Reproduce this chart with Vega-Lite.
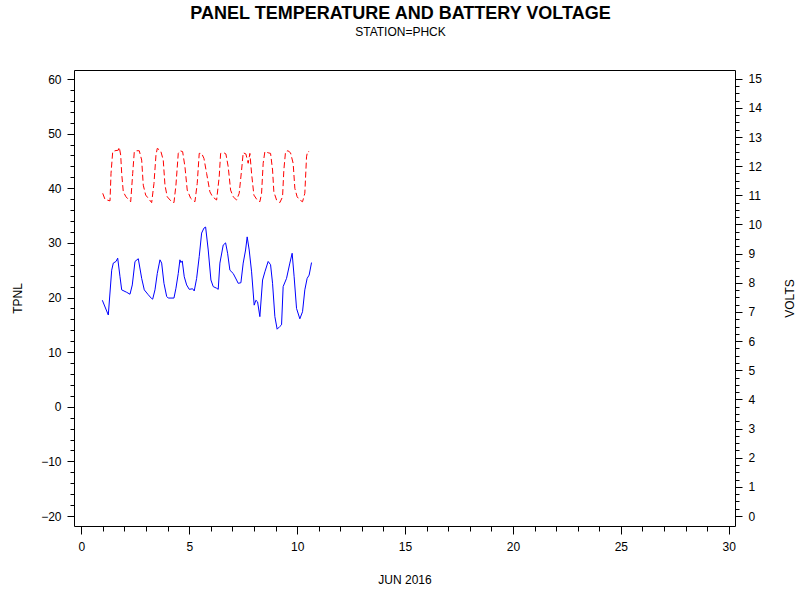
{
  "$schema": "https://vega.github.io/schema/vega-lite/v6.json",
  "autosize": {"type": "none"},
  "width": 661,
  "height": 456,
  "padding": {"left": 74, "top": 70, "right": 65, "bottom": 74},
  "background": "white",
  "title": {
    "text": "PANEL TEMPERATURE AND BATTERY VOLTAGE",
    "subtitle": "STATION=PHCK",
    "font": "Liberation Sans",
    "fontSize": 18,
    "fontWeight": "bold",
    "color": "black",
    "subtitleFont": "Liberation Sans",
    "subtitleFontSize": 12,
    "subtitleColor": "black",
    "subtitlePadding": 4,
    "anchor": "middle",
    "dx": -4,
    "offset": 32
  },
  "config": {
    "view": {"stroke": "black", "strokeWidth": 1},
    "axis": {
      "domain": false,
      "grid": false,
      "labelFont": "Liberation Sans",
      "labelFontSize": 12,
      "labelColor": "black",
      "tickColor": "black",
      "titleFont": "Liberation Sans",
      "titleFontSize": 12,
      "titleFontWeight": "normal",
      "titleColor": "black"
    }
  },
  "datasets": {
    "tpnl": [
      {"day": 0.972, "value": 19.5},
      {"day": 1.25, "value": 16.8},
      {"day": 1.407, "value": 25.0},
      {"day": 1.481, "value": 26.3},
      {"day": 1.606, "value": 26.6},
      {"day": 1.685, "value": 27.2},
      {"day": 1.792, "value": 23.8},
      {"day": 1.870, "value": 21.4},
      {"day": 2.102, "value": 20.95},
      {"day": 2.255, "value": 20.6},
      {"day": 2.361, "value": 22.3},
      {"day": 2.486, "value": 26.6},
      {"day": 2.639, "value": 27.1},
      {"day": 2.796, "value": 23.5},
      {"day": 2.917, "value": 21.4},
      {"day": 3.102, "value": 20.5},
      {"day": 3.259, "value": 19.8},
      {"day": 3.306, "value": 19.7},
      {"day": 3.412, "value": 21.4},
      {"day": 3.519, "value": 24.4},
      {"day": 3.644, "value": 26.9},
      {"day": 3.722, "value": 26.3},
      {"day": 3.829, "value": 22.6},
      {"day": 3.954, "value": 20.2},
      {"day": 4.028, "value": 19.9},
      {"day": 4.292, "value": 19.9},
      {"day": 4.384, "value": 21.7},
      {"day": 4.491, "value": 24.4},
      {"day": 4.569, "value": 26.9},
      {"day": 4.616, "value": 26.4},
      {"day": 4.676, "value": 26.7},
      {"day": 4.769, "value": 23.8},
      {"day": 4.880, "value": 22.3},
      {"day": 5.000, "value": 21.5},
      {"day": 5.157, "value": 21.6},
      {"day": 5.231, "value": 21.2},
      {"day": 5.343, "value": 23.5},
      {"day": 5.463, "value": 27.5},
      {"day": 5.574, "value": 31.8},
      {"day": 5.681, "value": 32.7},
      {"day": 5.759, "value": 32.9},
      {"day": 5.880, "value": 28.7},
      {"day": 6.005, "value": 23.2},
      {"day": 6.111, "value": 22.0},
      {"day": 6.269, "value": 21.7},
      {"day": 6.343, "value": 21.5},
      {"day": 6.421, "value": 26.3},
      {"day": 6.574, "value": 29.6},
      {"day": 6.685, "value": 30.0},
      {"day": 6.778, "value": 28.1},
      {"day": 6.884, "value": 25.0},
      {"day": 7.037, "value": 24.4},
      {"day": 7.194, "value": 23.2},
      {"day": 7.269, "value": 22.6},
      {"day": 7.394, "value": 22.7},
      {"day": 7.500, "value": 26.3},
      {"day": 7.611, "value": 28.7},
      {"day": 7.685, "value": 31.1},
      {"day": 7.778, "value": 28.7},
      {"day": 7.889, "value": 24.7},
      {"day": 8.009, "value": 18.6},
      {"day": 8.088, "value": 19.5},
      {"day": 8.167, "value": 19.2},
      {"day": 8.273, "value": 16.5},
      {"day": 8.398, "value": 23.2},
      {"day": 8.505, "value": 24.7},
      {"day": 8.657, "value": 26.6},
      {"day": 8.769, "value": 26.0},
      {"day": 8.861, "value": 22.6},
      {"day": 8.968, "value": 16.5},
      {"day": 9.074, "value": 14.2},
      {"day": 9.199, "value": 14.7},
      {"day": 9.278, "value": 15.0},
      {"day": 9.352, "value": 22.0},
      {"day": 9.509, "value": 23.5},
      {"day": 9.662, "value": 26.3},
      {"day": 9.769, "value": 28.1},
      {"day": 9.861, "value": 23.8},
      {"day": 9.972, "value": 18.0},
      {"day": 10.125, "value": 16.1},
      {"day": 10.250, "value": 17.4},
      {"day": 10.356, "value": 21.4},
      {"day": 10.463, "value": 23.5},
      {"day": 10.556, "value": 24.1},
      {"day": 10.667, "value": 26.4}
    ],
    "volts": [
      {"day": 0.991, "value": 11.07},
      {"day": 1.097, "value": 10.86},
      {"day": 1.329, "value": 10.81},
      {"day": 1.375, "value": 11.75},
      {"day": 1.454, "value": 12.5},
      {"day": 1.560, "value": 12.53},
      {"day": 1.713, "value": 12.55},
      {"day": 1.759, "value": 12.65},
      {"day": 1.824, "value": 12.38},
      {"day": 1.870, "value": 11.75},
      {"day": 1.944, "value": 11.12},
      {"day": 2.069, "value": 10.95},
      {"day": 2.287, "value": 10.78},
      {"day": 2.380, "value": 11.75},
      {"day": 2.454, "value": 12.5},
      {"day": 2.565, "value": 12.53},
      {"day": 2.685, "value": 12.53},
      {"day": 2.796, "value": 12.21},
      {"day": 2.870, "value": 11.35},
      {"day": 2.981, "value": 11.01},
      {"day": 3.102, "value": 10.9},
      {"day": 3.259, "value": 10.75},
      {"day": 3.366, "value": 11.41},
      {"day": 3.458, "value": 12.38},
      {"day": 3.519, "value": 12.61},
      {"day": 3.676, "value": 12.53},
      {"day": 3.796, "value": 12.21},
      {"day": 3.875, "value": 11.35},
      {"day": 3.981, "value": 10.95},
      {"day": 4.185, "value": 10.78},
      {"day": 4.292, "value": 10.75},
      {"day": 4.384, "value": 11.35},
      {"day": 4.491, "value": 12.44},
      {"day": 4.569, "value": 12.53},
      {"day": 4.694, "value": 12.5},
      {"day": 4.801, "value": 11.98},
      {"day": 4.907, "value": 11.18},
      {"day": 5.065, "value": 10.9},
      {"day": 5.264, "value": 10.78},
      {"day": 5.370, "value": 11.41},
      {"day": 5.463, "value": 12.44},
      {"day": 5.574, "value": 12.44},
      {"day": 5.681, "value": 12.27},
      {"day": 5.806, "value": 11.75},
      {"day": 5.958, "value": 11.12},
      {"day": 6.083, "value": 10.95},
      {"day": 6.269, "value": 10.84},
      {"day": 6.389, "value": 11.64},
      {"day": 6.454, "value": 12.44},
      {"day": 6.606, "value": 12.46},
      {"day": 6.699, "value": 12.42},
      {"day": 6.806, "value": 11.98},
      {"day": 6.917, "value": 11.18},
      {"day": 7.037, "value": 10.95},
      {"day": 7.194, "value": 10.84},
      {"day": 7.315, "value": 11.07},
      {"day": 7.426, "value": 11.87},
      {"day": 7.500, "value": 12.46},
      {"day": 7.625, "value": 12.42},
      {"day": 7.731, "value": 12.1},
      {"day": 7.810, "value": 12.44},
      {"day": 7.889, "value": 11.75},
      {"day": 7.995, "value": 11.01},
      {"day": 8.148, "value": 10.84},
      {"day": 8.273, "value": 10.78},
      {"day": 8.352, "value": 11.07},
      {"day": 8.426, "value": 12.1},
      {"day": 8.505, "value": 12.5},
      {"day": 8.657, "value": 12.46},
      {"day": 8.769, "value": 12.44},
      {"day": 8.861, "value": 11.87},
      {"day": 8.921, "value": 11.12},
      {"day": 9.046, "value": 10.84},
      {"day": 9.199, "value": 10.75},
      {"day": 9.324, "value": 10.95},
      {"day": 9.384, "value": 11.87},
      {"day": 9.463, "value": 12.5},
      {"day": 9.574, "value": 12.53},
      {"day": 9.694, "value": 12.46},
      {"day": 9.815, "value": 12.1},
      {"day": 9.894, "value": 11.24},
      {"day": 10.000, "value": 10.95},
      {"day": 10.125, "value": 10.84},
      {"day": 10.250, "value": 10.78},
      {"day": 10.356, "value": 11.07},
      {"day": 10.435, "value": 12.32},
      {"day": 10.481, "value": 12.5},
      {"day": 10.556, "value": 12.5}
    ]
  },
  "encoding": {
    "x": {
      "field": "day",
      "type": "quantitative",
      "scale": {"domain": [-0.34, 30.29], "nice": false, "zero": false},
      "axis": {
        "title": "JUN 2016",
        "values": [0,1,2,3,4,5,6,7,8,9,10,11,12,13,14,15,16,17,18,19,20,21,22,23,24,25,26,27,28,29,30],
        "labelExpr": "datum.value % 5 === 0 ? format(datum.value, 'd') : ''",
        "tickSize": {"condition": {"test": "datum.value % 5 === 0", "value": 8}, "value": 5},
        "labelPadding": 7,
        "titlePadding": 22
      }
    }
  },
  "layer": [
    {
      "data": {"name": "tpnl"},
      "mark": {"type": "line", "color": "#0000ff", "strokeWidth": 1, "interpolate": "linear"},
      "encoding": {
        "y": {
          "field": "value",
          "type": "quantitative",
          "scale": {"domain": [-21.83, 61.65], "nice": false, "zero": false},
          "axis": {
            "title": "TPNL",
            "orient": "left",
            "values": [-20,-18,-16,-14,-12,-10,-8,-6,-4,-2,0,2,4,6,8,10,12,14,16,18,20,22,24,26,28,30,32,34,36,38,40,42,44,46,48,50,52,54,56,58,60],
            "labelExpr": "datum.value % 10 === 0 ? format(datum.value, 'd') : ''",
            "tickSize": {"condition": {"test": "datum.value % 10 === 0", "value": 7}, "value": 4},
            "labelPadding": 6,
            "titlePadding": 16
          }
        }
      }
    },
    {
      "data": {"name": "volts"},
      "mark": {"type": "line", "color": "#ff0000", "strokeWidth": 1, "strokeDash": [6, 3], "interpolate": "linear"},
      "encoding": {
        "y": {
          "field": "value",
          "type": "quantitative",
          "scale": {"domain": [-0.343, 15.3], "nice": false, "zero": false},
          "axis": {
            "title": "VOLTS",
            "orient": "right",
            "titleAngle": -90,
            "values": [0,0.25,0.5,0.75,1,1.25,1.5,1.75,2,2.25,2.5,2.75,3,3.25,3.5,3.75,4,4.25,4.5,4.75,5,5.25,5.5,5.75,6,6.25,6.5,6.75,7,7.25,7.5,7.75,8,8.25,8.5,8.75,9,9.25,9.5,9.75,10,10.25,10.5,10.75,11,11.25,11.5,11.75,12,12.25,12.5,12.75,13,13.25,13.5,13.75,14,14.25,14.5,14.75,15],
            "labelExpr": "datum.value % 1 === 0 ? format(datum.value, 'd') : ''",
            "tickSize": {"condition": {"test": "datum.value % 1 === 0", "value": 7}, "value": 4},
            "labelPadding": 6,
            "titlePadding": 35
          }
        }
      }
    }
  ],
  "resolve": {"scale": {"y": "independent"}}
}
